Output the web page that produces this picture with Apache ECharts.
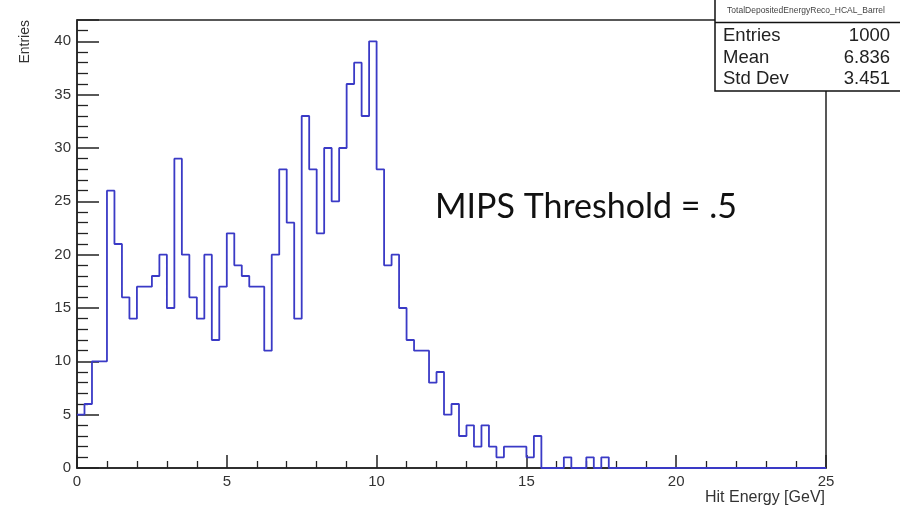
<!DOCTYPE html>
<html>
<head>
<meta charset="utf-8">
<script src="https://cdn.jsdelivr.net/npm/echarts@6/dist/echarts.min.js"></script>
<style>
html,body{margin:0;padding:0;background:#fff;}
#chart{width:900px;height:512px;}
</style>
</head>
<body>
<div id="chart"></div>
<script>
// Histogram definition: 100 bins of width 0.25 GeV from 0 to 25
const binLow = 0;
const binWidth = 0.25;
const counts = [
  5, 6, 10, 10, 26, 21, 16, 14, 17, 17,
  18, 20, 15, 29, 20, 16, 14, 20, 12, 17,
  22, 19, 18, 17, 17, 11, 20, 28, 23, 14,
  33, 28, 22, 30, 25, 30, 36, 38, 33, 40,
  28, 19, 20, 15, 12, 11, 11, 8, 9, 5,
  6, 3, 4, 2, 4, 2, 1, 2, 2, 2,
  1, 3, 0, 0, 0, 1, 0, 0, 1, 0,
  1, 0, 0, 0, 0, 0, 0, 0, 0, 0,
  0, 0, 0, 0, 0, 0, 0, 0, 0, 0,
  0, 0, 0, 0, 0, 0, 0, 0, 0, 0
];
const statsName = 'TotalDepositedEnergyReco_HCAL_Barrel';
const statsRows = [['Entries', '1000'], ['Mean', '6.836'], ['Std Dev', '3.451']];
const xTitle = 'Hit Energy [GeV]';
const yTitle = 'Entries';
const annotation = 'MIPS Threshold = .5';

// step points: left edge of each bin, plus final right edge
const stepData = counts.map((c, i) => [binLow + i * binWidth, c]);
stepData.push([binLow + counts.length * binWidth, counts[counts.length - 1]]);

const chart = echarts.init(document.getElementById('chart'), null, {renderer: 'canvas'});
const labelFont = {fontFamily: 'Liberation Sans, Arial, sans-serif', fontSize: 15, color: '#333'};

const statsGraphics = [
  {type: 'rect', shape: {x: 715, y: -2, width: 190, height: 93},
   style: {fill: '#fff', stroke: '#111', lineWidth: 1.5}, z: 100},
  {type: 'line', shape: {x1: 715, y1: 22.5, x2: 905, y2: 22.5},
   style: {stroke: '#111', lineWidth: 1.3}, z: 101},
  {type: 'text', x: 806, y: 11, z: 102,
   style: {text: statsName, font: '8.5px Liberation Sans, Arial, sans-serif', fill: '#444',
           textAlign: 'center', textVerticalAlign: 'middle'}}
];
statsRows.forEach((r, i) => {
  const y = 36 + i * 21.5;
  statsGraphics.push({type: 'text', x: 723, y: y, z: 102,
    style: {text: r[0], font: '18.5px Liberation Sans, Arial, sans-serif', fill: '#222',
            textAlign: 'left', textVerticalAlign: 'middle'}});
  statsGraphics.push({type: 'text', x: 890, y: y, z: 102,
    style: {text: r[1], font: '18.5px Liberation Sans, Arial, sans-serif', fill: '#222',
            textAlign: 'right', textVerticalAlign: 'middle'}});
});

chart.setOption({
  animation: false,
  backgroundColor: '#fff',
  grid: {left: 77, right: 74, top: 20, bottom: 44, show: true,
         borderColor: '#222', borderWidth: 1.5, backgroundColor: 'transparent'},
  xAxis: {
    type: 'value', min: 0, max: 25, interval: 5,
    axisLine: {show: true, onZero: false, lineStyle: {color: '#222', width: 1.5}},
    axisTick: {show: true, inside: true, length: 13, lineStyle: {color: '#222', width: 1.5}},
    minorTick: {show: true, splitNumber: 5, length: 7, lineStyle: {color: '#222', width: 1.3}},
    splitLine: {show: false},
    axisLabel: Object.assign({margin: 6}, labelFont)
  },
  yAxis: {
    type: 'value', min: 0, max: 42, interval: 5,
    axisLine: {show: true, onZero: false, lineStyle: {color: '#222', width: 1.5}},
    axisTick: {show: true, inside: true, length: 22, lineStyle: {color: '#222', width: 1.5}},
    minorTick: {show: true, splitNumber: 5, length: 11, lineStyle: {color: '#222', width: 1.3}},
    splitLine: {show: false},
    axisLabel: Object.assign({margin: 6, showMaxLabel: false}, labelFont)
  },
  series: [{
    type: 'line', step: 'end', data: stepData, symbol: 'none', clip: true,
    lineStyle: {color: '#3a3ac6', width: 1.8}, z: 5
  }],
  graphic: [
    {type: 'text', x: 825, y: 498, z: 50,
     style: {text: xTitle, font: '16px Liberation Sans, Arial, sans-serif', fill: '#333',
             textAlign: 'right', textVerticalAlign: 'middle'}},
    {type: 'text', x: 25, y: 20, rotation: Math.PI / 2, z: 50,
     style: {text: yTitle, font: '14px Liberation Sans, Arial, sans-serif', fill: '#333',
             textAlign: 'right', textVerticalAlign: 'middle'}},
    {type: 'text', x: 435, y: 207, z: 50,
     style: {text: annotation, font: '34px Lato, sans-serif', fill: '#111',
             textAlign: 'left', textVerticalAlign: 'middle'}}
  ].concat(statsGraphics)
});
</script>
</body>
</html>
